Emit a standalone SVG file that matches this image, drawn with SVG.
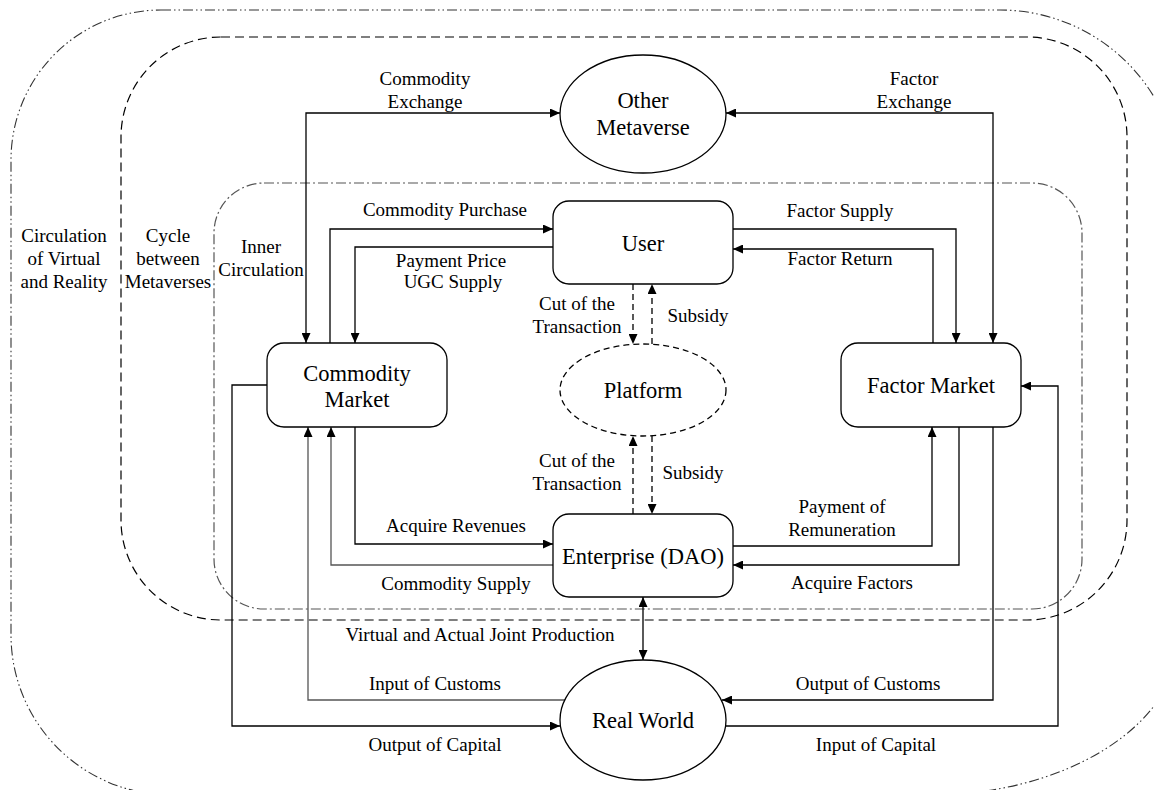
<svg xmlns="http://www.w3.org/2000/svg" width="1154" height="790" viewBox="0 0 1154 790" font-family="'Liberation Serif', 'Times New Roman', 'DejaVu Serif', serif">
<style>
text{font-family:'Liberation Serif','Times New Roman','DejaVu Serif',serif;fill:#000;text-anchor:middle}
.n{font-size:22.5px}
.l{font-size:19px}
.box{fill:#fff;stroke:#000;stroke-width:1.3}
.c{fill:none;stroke:#000;stroke-width:1.3}
.g{stroke:#555}
.d{stroke-dasharray:6 4}
.b1{fill:none;stroke:#333;stroke-width:1.1;stroke-dasharray:10 3 1.5 3 1.5 3}
.b2{fill:none;stroke:#000;stroke-width:1.2;stroke-dasharray:9 5}
.b3{fill:none;stroke:#555;stroke-width:1.2;stroke-dasharray:10 3 2 3}
</style>
<defs>
<marker id="a" markerUnits="userSpaceOnUse" markerWidth="11" markerHeight="9" refX="10" refY="4.5" orient="auto-start-reverse" viewBox="0 0 11 9"><path d="M0,0 L10,4.5 L0,9 Z" fill="#000"/></marker>
</defs>
<g id="boundaries">
<path class="b1" d="M161,10 H1000 A180,180 0 0 1 1180,190 V635 A250,160 0 0 1 930,795 H171 A160,160 0 0 1 11,635 V160 A150,150 0 0 1 161,10 Z"/>
<rect class="b2" x="121" y="37" width="1006" height="583" rx="100" ry="100"/>
<rect class="b3" x="214" y="183" width="868" height="426" rx="50" ry="50"/>
<text class="l" x="64" y="242">Circulation</text>
<text class="l" x="64" y="265">of Virtual</text>
<text class="l" x="64" y="288">and Reality</text>
<text class="l" x="168" y="242">Cycle</text>
<text class="l" x="168" y="265">between</text>
<text class="l" x="168" y="288">Metaverses</text>
<text class="l" x="261" y="253">Inner</text>
<text class="l" x="261" y="276">Circulation</text>
</g>
<g id="connectors">
<path class="c" d="M560,113 H306 V343" marker-start="url(#a)" marker-end="url(#a)"/>
<path class="c" d="M726,113 H993 V343" marker-start="url(#a)" marker-end="url(#a)"/>
<path class="c" d="M330,343 V229 H553" marker-end="url(#a)"/>
<path class="c" d="M553,247 H355 V343" marker-end="url(#a)"/>
<path class="c" d="M733,229 H956 V343" marker-end="url(#a)"/>
<path class="c" d="M933,343 V249 H733" marker-end="url(#a)"/>
<path class="c d" d="M633,284 V344" marker-end="url(#a)"/>
<path class="c d" d="M652,344 V284" marker-end="url(#a)"/>
<path class="c d" d="M633,514 V436" marker-end="url(#a)"/>
<path class="c d" d="M652,436 V514" marker-end="url(#a)"/>
<path class="c" d="M355,427 V544 H553" marker-end="url(#a)"/>
<path class="c g" d="M553,565 H331 V427" marker-end="url(#a)"/>
<path class="c" d="M733,546 H932 V427" marker-end="url(#a)"/>
<path class="c" d="M959,427 V565 H733" marker-end="url(#a)"/>
<path class="c" d="M643,597 V660" marker-start="url(#a)" marker-end="url(#a)"/>
<path class="c g" d="M565,700 H308 V427" marker-end="url(#a)"/>
<path class="c" d="M267,385 H232 V726 H560" marker-end="url(#a)"/>
<path class="c" d="M993,427 V700 H722" marker-end="url(#a)"/>
<path class="c" d="M726,726 H1058 V386 H1021" marker-end="url(#a)"/>
<text class="l" x="425" y="85">Commodity</text>
<text class="l" x="425" y="108">Exchange</text>
<text class="l" x="914" y="85">Factor</text>
<text class="l" x="914" y="108">Exchange</text>
<text class="l" x="445" y="216">Commodity Purchase</text>
<text class="l" x="451" y="267">Payment Price</text>
<text class="l" x="453" y="288">UGC Supply</text>
<text class="l" x="840" y="217">Factor Supply</text>
<text class="l" x="840" y="265">Factor Return</text>
<text class="l" x="577" y="310">Cut of the</text>
<text class="l" x="577" y="333">Transaction</text>
<text class="l" x="698" y="322">Subsidy</text>
<text class="l" x="577" y="467">Cut of the</text>
<text class="l" x="577" y="490">Transaction</text>
<text class="l" x="693" y="479">Subsidy</text>
<text class="l" x="456" y="532">Acquire Revenues</text>
<text class="l" x="456" y="590">Commodity Supply</text>
<text class="l" x="842" y="513">Payment of</text>
<text class="l" x="842" y="536">Remuneration</text>
<text class="l" x="852" y="589">Acquire Factors</text>
<text class="l" x="480" y="641">Virtual and Actual Joint Production</text>
<text class="l" x="435" y="690">Input of Customs</text>
<text class="l" x="868" y="690">Output of Customs</text>
<text class="l" x="435" y="751">Output of Capital</text>
<text class="l" x="876" y="751">Input of Capital</text>
</g>
<g id="other-metaverse">
<ellipse class="box" cx="643" cy="114" rx="83" ry="59"/>
<text class="n" x="643" y="108">Other</text>
<text class="n" x="643" y="135">Metaverse</text>
</g>
<g id="user">
<rect class="box" x="553" y="201" width="180" height="83" rx="16" ry="16"/>
<text class="n" x="643" y="251">User</text>
</g>
<g id="platform">
<ellipse class="box d" cx="643" cy="390" rx="83" ry="46"/>
<text class="n" x="643" y="398">Platform</text>
</g>
<g id="commodity-market">
<rect class="box" x="267" y="343" width="180" height="84" rx="17" ry="17"/>
<text class="n" x="357" y="381">Commodity</text>
<text class="n" x="357" y="407">Market</text>
</g>
<g id="factor-market">
<rect class="box" x="841" y="343" width="180" height="84" rx="17" ry="17"/>
<text class="n" x="931" y="393">Factor Market</text>
</g>
<g id="enterprise">
<rect class="box" x="553" y="514" width="180" height="83" rx="16" ry="16"/>
<text class="n" x="643" y="564">Enterprise (DAO)</text>
</g>
<g id="real-world">
<ellipse class="box" cx="643" cy="720" rx="83" ry="60"/>
<text class="n" x="643" y="728">Real World</text>
</g>
</svg>
